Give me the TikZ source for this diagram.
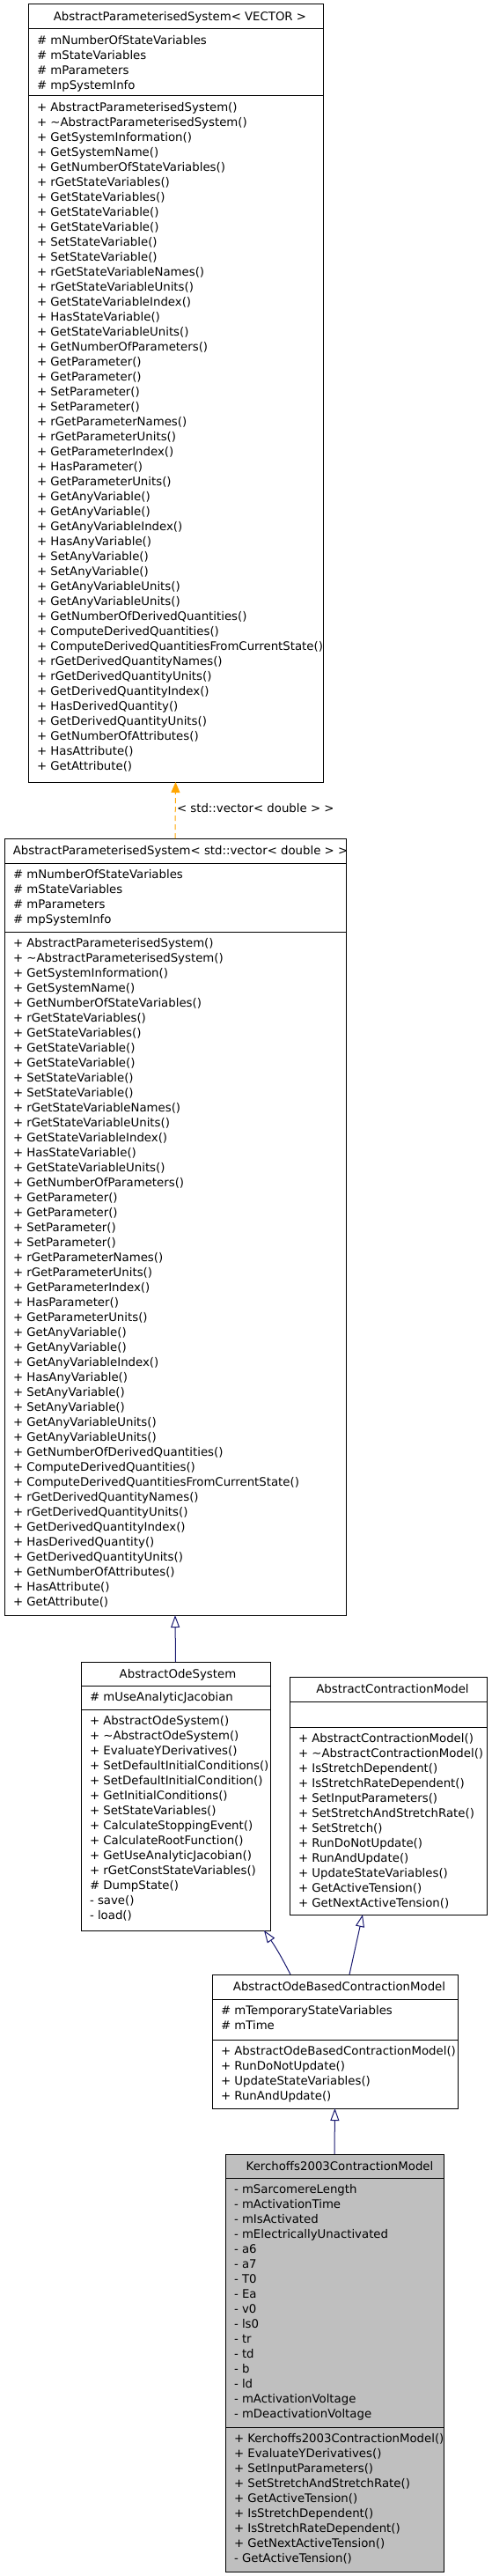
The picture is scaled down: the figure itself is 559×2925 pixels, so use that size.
\documentclass[tikz,border=0pt]{standalone}
\usepackage{fontspec}
\setmainfont{DejaVu Sans}
\usetikzlibrary{arrows.meta,calc}
\definecolor{inhnavy}{HTML}{191970}
\definecolor{tmplorange}{HTML}{FFA500}
\definecolor{leafgray}{HTML}{BFBFBF}

\newcommand\memberlist[4]{%
  \foreach \mtxt [count=\mi from 1] in #4 {%
    \node[member] (#1\mi) at (#2, {#3+4.5+17*(\mi-1)}) {\mtxt};
  }}

\def\apsattrs{\# mNumberOfStateVariables, \# mStateVariables, \# mParameters, \# mpSystemInfo}
\def\apsmethods{+ AbstractParameterisedSystem(), + \textasciitilde{}AbstractParameterisedSystem(), + GetSystemInformation(), + GetSystemName(), + GetNumberOfStateVariables(), + rGetStateVariables(), + GetStateVariables(), + GetStateVariable(), + GetStateVariable(), + SetStateVariable(), + SetStateVariable(), + rGetStateVariableNames(), + rGetStateVariableUnits(), + GetStateVariableIndex(), + HasStateVariable(), + GetStateVariableUnits(), + GetNumberOfParameters(), + GetParameter(), + GetParameter(), + SetParameter(), + SetParameter(), + rGetParameterNames(), + rGetParameterUnits(), + GetParameterIndex(), + HasParameter(), + GetParameterUnits(), + GetAnyVariable(), + GetAnyVariable(), + GetAnyVariableIndex(), + HasAnyVariable(), + SetAnyVariable(), + SetAnyVariable(), + GetAnyVariableUnits(), + GetAnyVariableUnits(), + GetNumberOfDerivedQuantities(), + ComputeDerivedQuantities(), + ComputeDerivedQuantitiesFromCurrentState(), + rGetDerivedQuantityNames(), + rGetDerivedQuantityUnits(), + GetDerivedQuantityIndex(), + HasDerivedQuantity(), + GetDerivedQuantityUnits(), + GetNumberOfAttributes(), + HasAttribute(), + GetAttribute()}
\def\aosattrs{\# mUseAnalyticJacobian}
\def\aosmethods{+ AbstractOdeSystem(), + \textasciitilde{}AbstractOdeSystem(), + EvaluateYDerivatives(), + SetDefaultInitialConditions(), + SetDefaultInitialCondition(), + GetInitialConditions(), + SetStateVariables(), + CalculateStoppingEvent(), + CalculateRootFunction(), + GetUseAnalyticJacobian(), + rGetConstStateVariables(), \# DumpState(), - save(), - load()}
\def\acmmethods{+ AbstractContractionModel(), + \textasciitilde{}AbstractContractionModel(), + IsStretchDependent(), + IsStretchRateDependent(), + SetInputParameters(), + SetStretchAndStretchRate(), + SetStretch(), + RunDoNotUpdate(), + RunAndUpdate(), + UpdateStateVariables(), + GetActiveTension(), + GetNextActiveTension()}
\def\odbattrs{\# mTemporaryStateVariables, \# mTime}
\def\odbmethods{+ AbstractOdeBasedContractionModel(), + RunDoNotUpdate(), + UpdateStateVariables(), + RunAndUpdate()}
\def\kcmattrs{- mSarcomereLength, - mActivationTime, - mIsActivated, - mElectricallyUnactivated, - a6, - a7, - T0, - Ea, - v0, - ls0, - tr, - td, - b, - ld, - mActivationVoltage, - mDeactivationVoltage}
\def\kcmmethods{+ Kerchoffs2003ContractionModel(), + EvaluateYDerivatives(), + SetInputParameters(), + SetStretchAndStretchRate(), + GetActiveTension(), + IsStretchDependent(), + IsStretchRateDependent(), + GetNextActiveTension(), - GetActiveTension()}

\begin{document}
\begin{tikzpicture}[x=1pt,y=-1pt,
  classbox/.style={draw=black, fill=white, line width=1pt, inner sep=0pt, outer sep=0pt, anchor=north west},
  sepline/.style={draw=black, line width=1pt},
  member/.style={anchor=base west, inner sep=0pt, outer sep=0pt, font=\fontsize{13.3}{16}\selectfont},
  classtitle/.style={anchor=base, inner sep=0pt, outer sep=0pt, font=\fontsize{13.3}{16}\selectfont},
  inh/.style={draw=inhnavy, line width=1pt, -{Triangle[open, length=14pt, width=10pt, line width=1pt]}},
  tmpl/.style={draw=tmplorange, line width=1pt, dash pattern=on 6pt off 4pt, -{Triangle[length=12pt, width=10pt]}}
]
\fill[white] (0,0) rectangle (559,2925);
\useasboundingbox (0,0) rectangle (559,2925);

% AbstractParameterisedSystem< VECTOR >
\node[classbox, minimum width=335pt, minimum height=883pt] (aps) at (32,5) {};
\draw[sepline] (32,33) -- (367,33);
\draw[sepline] (32,109) -- (367,109);
\node[classtitle] (apsT) at (204.5,23.5) {AbstractParameterisedSystem< VECTOR >};
\memberlist{apsA}{42}{46}{\apsattrs}
\memberlist{apsM}{42}{122}{\apsmethods}

% AbstractParameterisedSystem< std::vector< double > >
\node[classbox, minimum width=388pt, minimum height=882pt] (apsv) at (5,952) {};
\draw[sepline] (5,980) -- (393,980);
\draw[sepline] (5,1058) -- (393,1058);
\node[classtitle] (apsvT) at (205,970.5) {AbstractParameterisedSystem< std::vector< double > >};
\memberlist{apsvA}{15}{993}{\apsattrs}
\memberlist{apsvM}{15}{1071}{\apsmethods}

% AbstractOdeSystem
\node[classbox, minimum width=215pt, minimum height=305pt] (aos) at (92,1887) {};
\draw[sepline] (92,1914) -- (307,1914);
\draw[sepline] (92,1941) -- (307,1941);
\node[classtitle] (aosT) at (202,1905) {AbstractOdeSystem};
\memberlist{aosA}{102}{1927}{\aosattrs}
\memberlist{aosM}{102}{1954}{\aosmethods}

% AbstractContractionModel
\node[classbox, minimum width=224pt, minimum height=270pt] (acm) at (329,1904) {};
\draw[sepline] (329,1932) -- (553,1932);
\draw[sepline] (329,1961) -- (553,1961);
\node[classtitle] (acmT) at (446,1922.5) {AbstractContractionModel};
\memberlist{acmM}{339}{1974}{\acmmethods}

% AbstractOdeBasedContractionModel
\node[classbox, minimum width=279pt, minimum height=152pt] (odb) at (241,2242) {};
\draw[sepline] (241,2270) -- (520,2270);
\draw[sepline] (241,2316) -- (520,2316);
\node[classtitle] (odbT) at (385.5,2260.5) {AbstractOdeBasedContractionModel};
\memberlist{odbA}{251}{2283}{\odbattrs}
\memberlist{odbM}{251}{2329}{\odbmethods}

% Kerchoffs2003ContractionModel
\node[classbox, fill=leafgray, minimum width=248pt, minimum height=474pt] (kcm) at (256,2446) {};
\draw[sepline] (256,2473) -- (504,2473);
\draw[sepline] (256,2756) -- (504,2756);
\node[classtitle] (kcmT) at (386,2464) {Kerchoffs2003ContractionModel};
\memberlist{kcmA}{266}{2486}{\kcmattrs}
\memberlist{kcmM}{266}{2769}{\kcmmethods}

% connectors
\draw[tmpl] (apsv.north) -- (aps.south);
\node[member] (tmplLbl) at (201,922.5) {< std::vector< double > >};
\draw[inh] (aos.north) -- (apsv.south);
\draw[inh] ([xshift=-50.5pt]odb.north) to[bend right=4] ([xshift=-7pt]aos.south east);
\draw[inh] ([xshift=16.5pt]odb.north) -- ([xshift=-29pt]acm.south);
\draw[inh] (kcm.north) -- (odb.south);
\end{tikzpicture}
\end{document}
